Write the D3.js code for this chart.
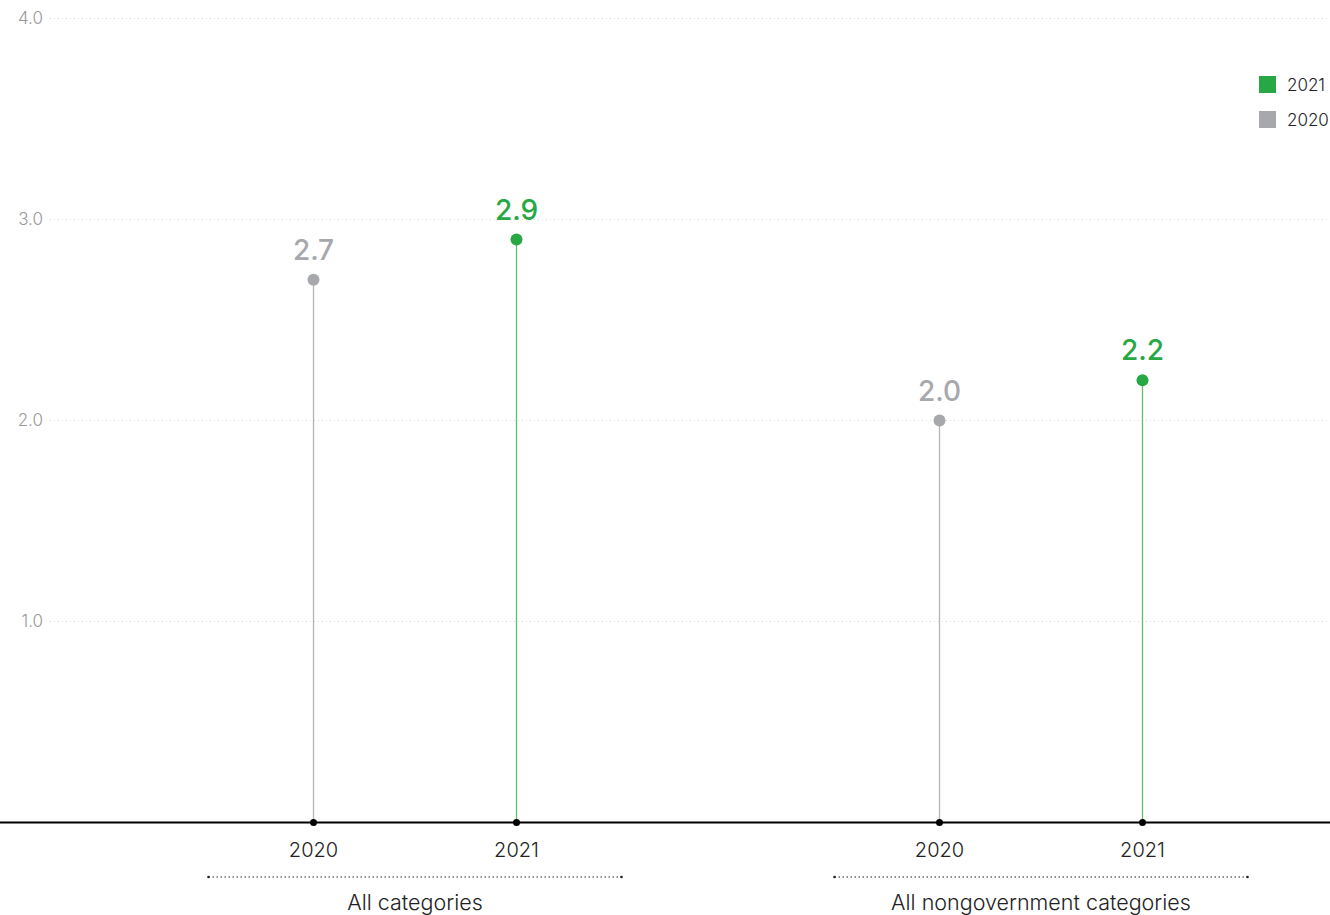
<!DOCTYPE html>
<html><head><meta charset="utf-8">
<script src="https://cdn.jsdelivr.net/npm/d3@7"></script>
<style>
body{margin:0;background:#fff;}
svg{display:block;font-family:Inter,Roboto,sans-serif;}
</style></head>
<body><svg id="c" width="1330" height="915"></svg>
<script>
const groups = ["All categories", "All nongovernment categories"];
const years = ["2020", "2021"];
const values2020 = [2.7, 2.0];
const values2021 = [2.9, 2.2];
const yTicks = [1.0, 2.0, 3.0, 4.0];
const colors = {"2020": "#a7a8ab", "2021": "#27a844"};
const stemColors = {"2020": "#b4b5b8", "2021": "#62bd73"};

const svg = d3.select("#c");
const W = 1330;
const y = d3.scaleLinear().domain([0, 4]).range([822.5, 18.5]);
const xG = d3.scaleBand().domain(groups).range([102, 1354]).paddingInner(0);
const xY = d3.scalePoint().domain(years).range([-101.5, 101.5]);
const cx = (g, yr) => xG(g) + xG.bandwidth() / 2 + xY(yr);

// gridlines
svg.append("g").selectAll("line").data(yTicks).join("line")
  .attr("x1", 50).attr("x2", W)
  .attr("y1", d => y(d)).attr("y2", d => y(d))
  .attr("stroke", "#d9d9d9").attr("stroke-width", 1).attr("stroke-dasharray", "1,3");

// y axis labels
const ya = svg.append("g").attr("transform", "translate(50,0)")
  .call(d3.axisLeft(y).tickValues(yTicks).tickFormat(d3.format(".1f")).tickSize(0).tickPadding(7));
ya.select(".domain").remove();
ya.selectAll("text").attr("fill", "#999").attr("font-size", 17).attr("font-weight", 300).attr("font-family", "Inter, sans-serif");

const data = [];
groups.forEach((g, i) => {
  data.push({g, yr: "2020", v: values2020[i]});
  data.push({g, yr: "2021", v: values2021[i]});
});

// stems
svg.append("g").selectAll("line").data(data).join("line")
  .attr("x1", d => cx(d.g, d.yr)).attr("x2", d => cx(d.g, d.yr))
  .attr("y1", d => y(d.v)).attr("y2", y(0))
  .attr("stroke", d => stemColors[d.yr]).attr("stroke-width", 1.3);

// baseline
svg.append("line").attr("x1", 0).attr("x2", W).attr("y1", y(0)).attr("y2", y(0))
  .attr("stroke", "#000").attr("stroke-width", 2);

// base dots
svg.append("g").selectAll("circle").data(data).join("circle")
  .attr("cx", d => cx(d.g, d.yr)).attr("cy", y(0)).attr("r", 3.5).attr("fill", "#000");

// top dots
svg.append("g").selectAll("circle").data(data).join("circle")
  .attr("cx", d => cx(d.g, d.yr)).attr("cy", d => y(d.v)).attr("r", 6).attr("fill", d => colors[d.yr]);

// value labels
svg.append("g").selectAll("text").data(data).join("text")
  .attr("x", d => cx(d.g, d.yr)).attr("y", d => y(d.v) - 20)
  .attr("text-anchor", "middle").attr("font-size", 28).attr("font-weight", 500)
  .attr("fill", d => colors[d.yr]).text(d => d.v.toFixed(1));

// x tick labels
svg.append("g").selectAll("text").data(data).join("text")
  .attr("x", d => cx(d.g, d.yr)).attr("y", 857)
  .attr("text-anchor", "middle").attr("font-size", 20).attr("font-weight", 300)
  .attr("fill", "#222").text(d => d.yr);

// group brackets
const gc = g => xG(g) + xG.bandwidth() / 2;
const br = svg.append("g").selectAll("g").data(groups).join("g");
br.append("line").attr("x1", g => gc(g) - 206.5).attr("x2", g => gc(g) + 206.5)
  .attr("y1", 877).attr("y2", 877).attr("stroke", "#222").attr("stroke-width", 1).attr("stroke-dasharray", "1.5,2.5");
br.append("circle").attr("cx", g => gc(g) - 206.5).attr("cy", 877).attr("r", 1.3).attr("fill", "#222");
br.append("circle").attr("cx", g => gc(g) + 206.5).attr("cy", 877).attr("r", 1.3).attr("fill", "#222");
br.append("text").attr("x", gc).attr("y", 910).attr("text-anchor", "middle")
  .attr("font-size", 21.5).attr("font-weight", 300).attr("fill", "#222").text(g => g);

// legend
const legendYears = ["2021", "2020"];
const lg = svg.append("g").selectAll("g").data(legendYears).join("g")
  .attr("transform", (d, i) => `translate(1259,${76 + i * 35})`);
lg.append("rect").attr("width", 17).attr("height", 17).attr("fill", d => colors[d]);
lg.append("text").attr("x", 28).attr("y", 15).attr("font-size", 17).attr("font-weight", 300)
  .attr("fill", "#222").text(d => d);
</script></body></html>
